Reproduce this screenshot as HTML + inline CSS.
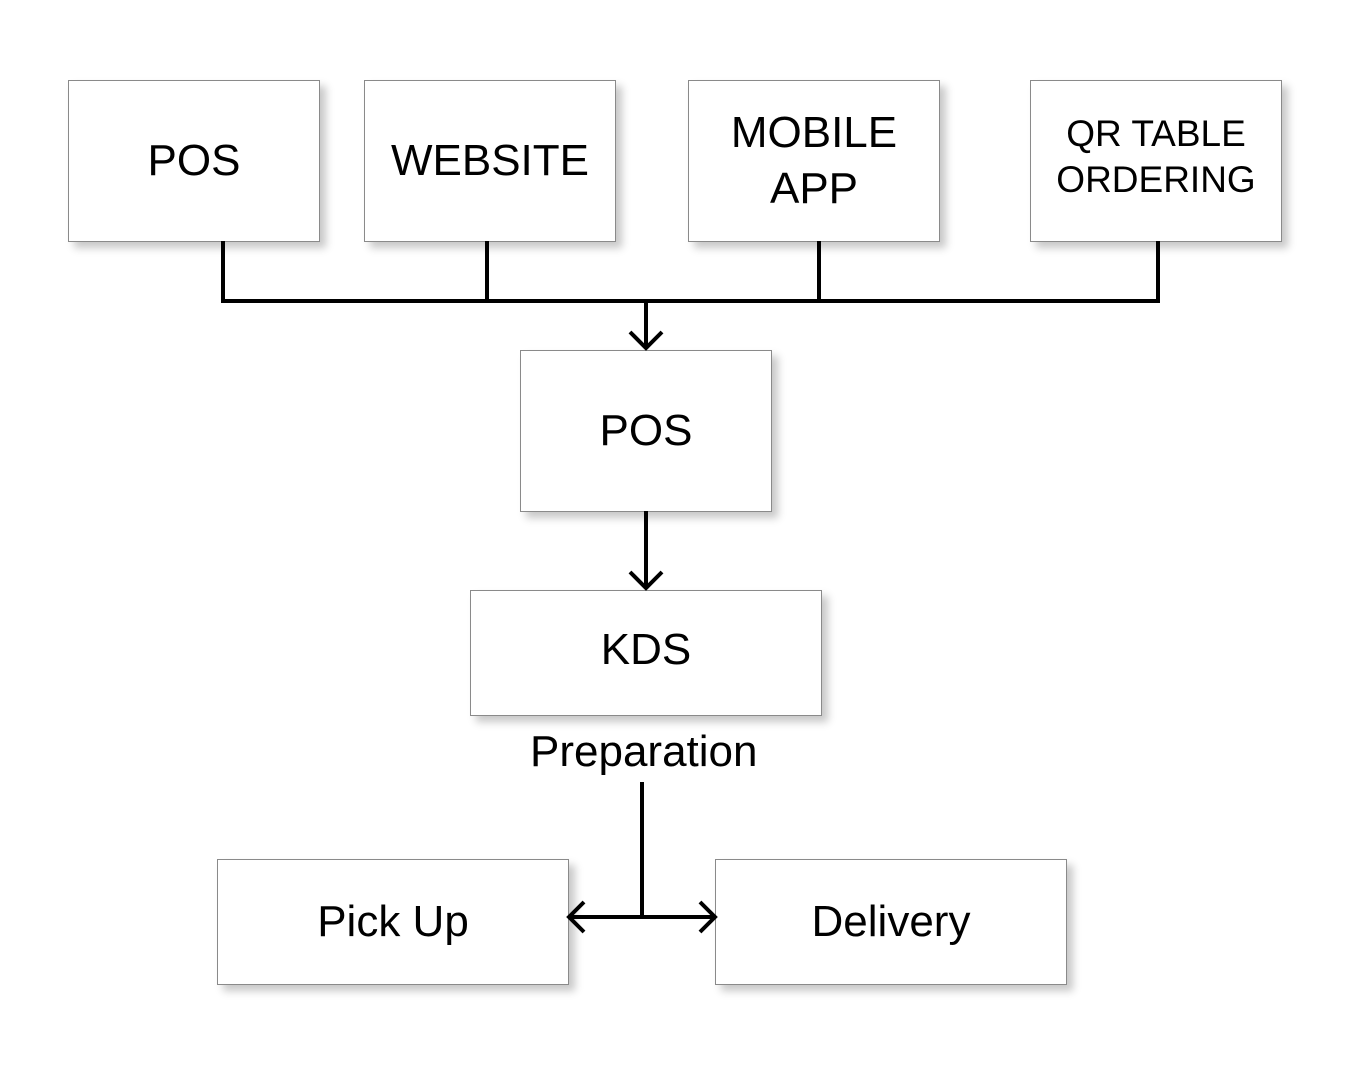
<!DOCTYPE html>
<html><head><style>
body{margin:0;width:1372px;height:1065px;background:#fff;position:relative;overflow:hidden;font-family:"Liberation Sans",sans-serif;}
.b{position:absolute;box-sizing:border-box;border:1.5px solid #8a8a8a;background:#fff;box-shadow:6px 6px 8px rgba(0,0,0,0.22);display:flex;align-items:center;justify-content:center;text-align:center;color:#000;font-size:44px;line-height:1.2;}
svg{position:absolute;left:0;top:0;}
.t{position:absolute;font-size:44px;color:#000;}
</style></head><body>
<div class="b" style="left:68px;top:80px;width:252px;height:162px">POS</div>
<div class="b" style="left:364px;top:80px;width:252px;height:162px">WEBSITE</div>
<div class="b" style="left:688px;top:80px;width:252px;height:162px;line-height:1.27">MOBILE<br>APP</div>
<div class="b" style="left:1030px;top:80px;width:252px;height:162px;font-size:37px;line-height:1.25;padding-bottom:8px">QR TABLE<br>ORDERING</div>
<div class="b" style="left:520px;top:350px;width:252px;height:162px">POS</div>
<div class="b" style="left:470px;top:590px;width:352px;height:126px;padding-bottom:6px">KDS</div>
<div class="b" style="left:217px;top:859px;width:352px;height:126px">Pick Up</div>
<div class="b" style="left:715px;top:859px;width:352px;height:126px">Delivery</div>
<div class="t" style="left:530px;top:727px">Preparation</div>
<svg width="1372" height="1065" fill="none" stroke="#000" stroke-width="4">
<path d="M223 241V301M487 241V301M819 241V301M1158 241V301M221 301H1160"/>
<path d="M646 301V348M630 332L646 348L662 332"/>
<path d="M646 511V588M630 572L646 588L662 572"/>
<path d="M642 782V917M569 917H715M584 902L569 917L584 932M700 902L715 917L700 932"/>
</svg>
</body></html>
